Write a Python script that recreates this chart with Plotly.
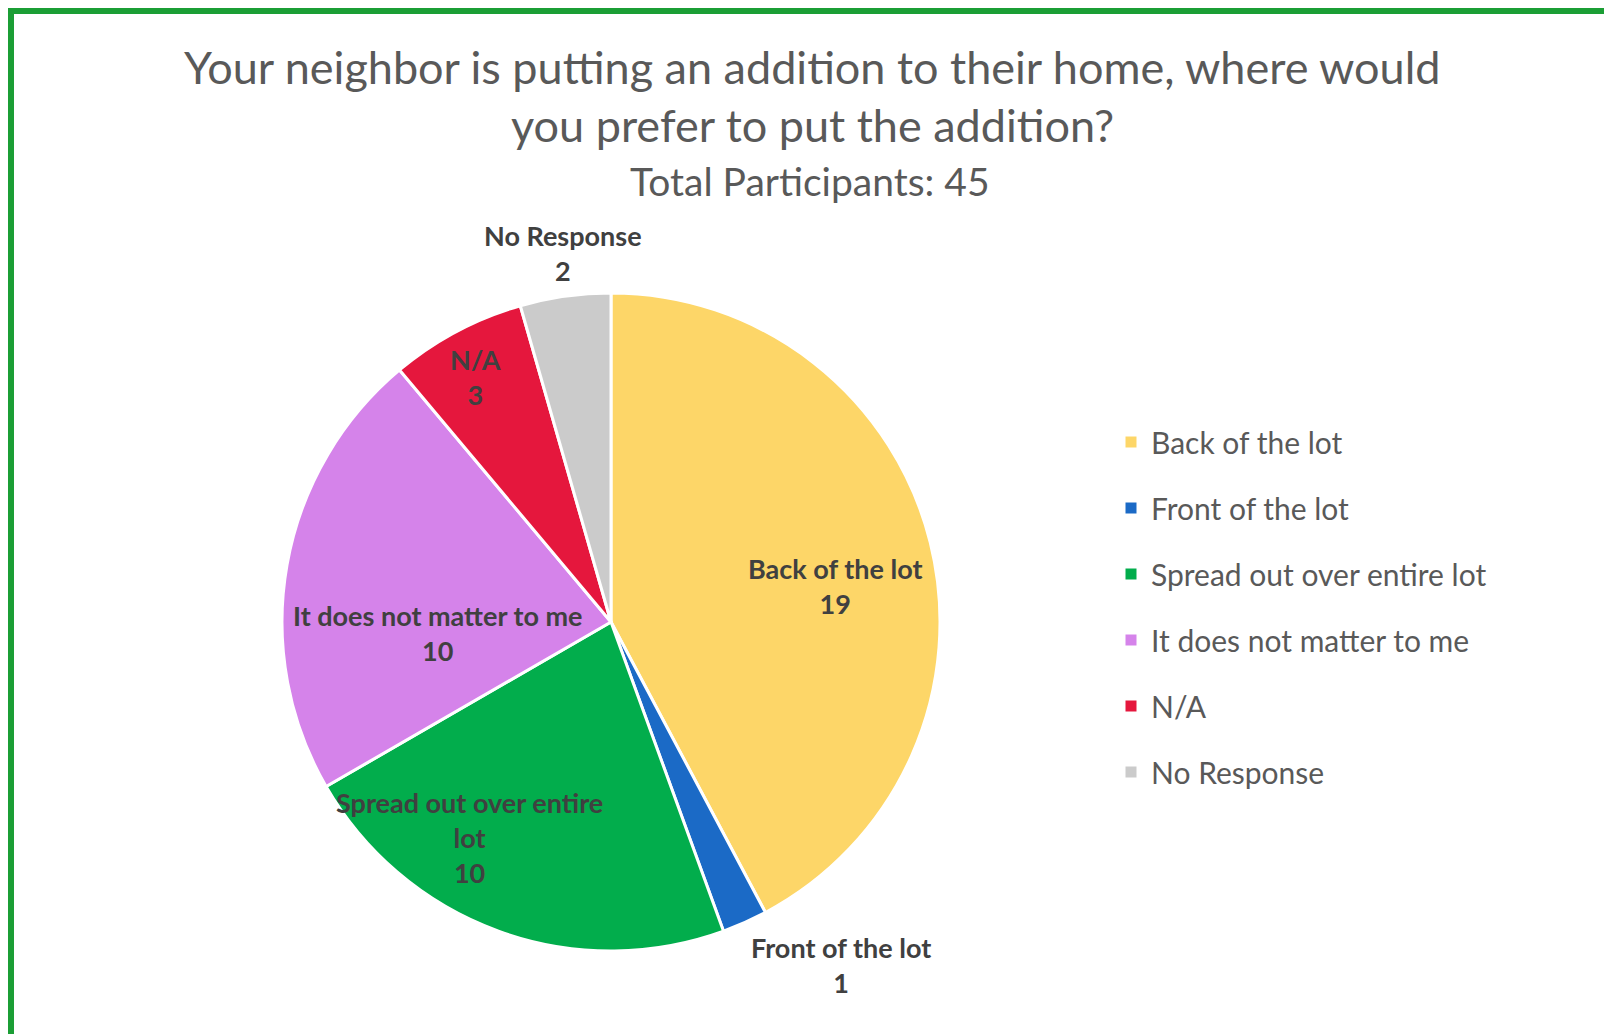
import math
import plotly.graph_objects as go

# ---- data ----
categories = ["Back of the lot", "Front of the lot", "Spread out over entire lot",
              "It does not matter to me", "N/A", "No Response"]
counts = [19, 1, 10, 10, 3, 2]
colors = ["#FDD668", "#1B6AC6", "#02AD4C", "#D583EA", "#E5173D", "#CBCBCB"]
label_text = ["Back of the lot", "Front of the lot", "Spread out over entire<br>lot",
              "It does not matter to me", "N/A", "No Response"]
title_lines = ["Your neighbor is putting an addition to their home, where would",
               "you prefer to put the addition?"]
subtitle = "Total Participants: 45"

# ---- layout geometry (pixels) ----
W, H = 1604, 1034
CX, CY, R = 611, 622, 329
# label placement: (angle clockwise from top in degrees, radius fraction)
label_polar = [(81, 0.69), (146.2, 1.255), (213.4, 0.784), (266.4, 0.527), (331.1, 0.85), (352.6, 1.131)]

FONT = "Lato"
TXT = "#595959"
LBL = "#404040"

fig = go.Figure()
fig.add_trace(go.Pie(
    labels=categories, values=counts, sort=False, direction="clockwise", rotation=0,
    marker=dict(colors=colors, line=dict(color="white", width=3)),
    textinfo="none", showlegend=False, hoverinfo="label+value",
    domain=dict(x=[(CX - R) / W, (CX + R) / W], y=[1 - (CY + R) / H, 1 - (CY - R) / H]),
))

# legend via dummy traces so spacing can be controlled
for cat, col in zip(categories, colors):
    fig.add_trace(go.Scatter(x=[None], y=[None], mode="markers", name=cat, legendgroup=cat,
                             marker=dict(symbol="square", size=11, color=col)))

annotations = []
for txt, val, (ang, rf) in zip(label_text, counts, label_polar):
    a = math.radians(ang)
    px = CX + rf * R * math.sin(a)
    py = CY - rf * R * math.cos(a)
    annotations.append(dict(x=px / W, y=1 - py / H, xref="paper", yref="paper",
                            text=f"<b>{txt}<br>{val}</b>", showarrow=False,
                            font=dict(family=FONT, size=27, color=LBL),
                            align="center", xanchor="center", yanchor="middle"))

for i, line in enumerate(title_lines):
    annotations.append(dict(x=812 / W, y=1 - (67 + 58 * i) / H, xref="paper", yref="paper",
                            text=line, showarrow=False, xanchor="center", yanchor="middle",
                            font=dict(family=FONT, size=45, color=TXT)))
annotations.append(dict(x=810 / W, y=1 - 181 / H, xref="paper", yref="paper",
                        text=subtitle, showarrow=False, xanchor="center", yanchor="middle",
                        font=dict(family=FONT, size=39, color=TXT)))

fig.update_layout(
    width=W, height=H, margin=dict(l=0, r=0, t=0, b=0),
    paper_bgcolor="white", plot_bgcolor="white",
    xaxis=dict(visible=False), yaxis=dict(visible=False),
    annotations=annotations,
    legend=dict(x=1111 / W, y=1 - 416 / H, xanchor="left", yanchor="top",
                font=dict(family=FONT, size=30, color=TXT),
                tracegroupgap=24, bgcolor="rgba(0,0,0,0)"),
    shapes=[dict(type="rect", xref="paper", yref="paper",
                 x0=11 / W, x1=1.05, y0=-0.05, y1=1 - 11 / H,
                 line=dict(color="#1B9E35", width=6), layer="above")],
    hovermode="closest",
)

fig.write_html("out.html", config={"displayModeBar": False},
               post_script="document.body.style.margin='0';")
